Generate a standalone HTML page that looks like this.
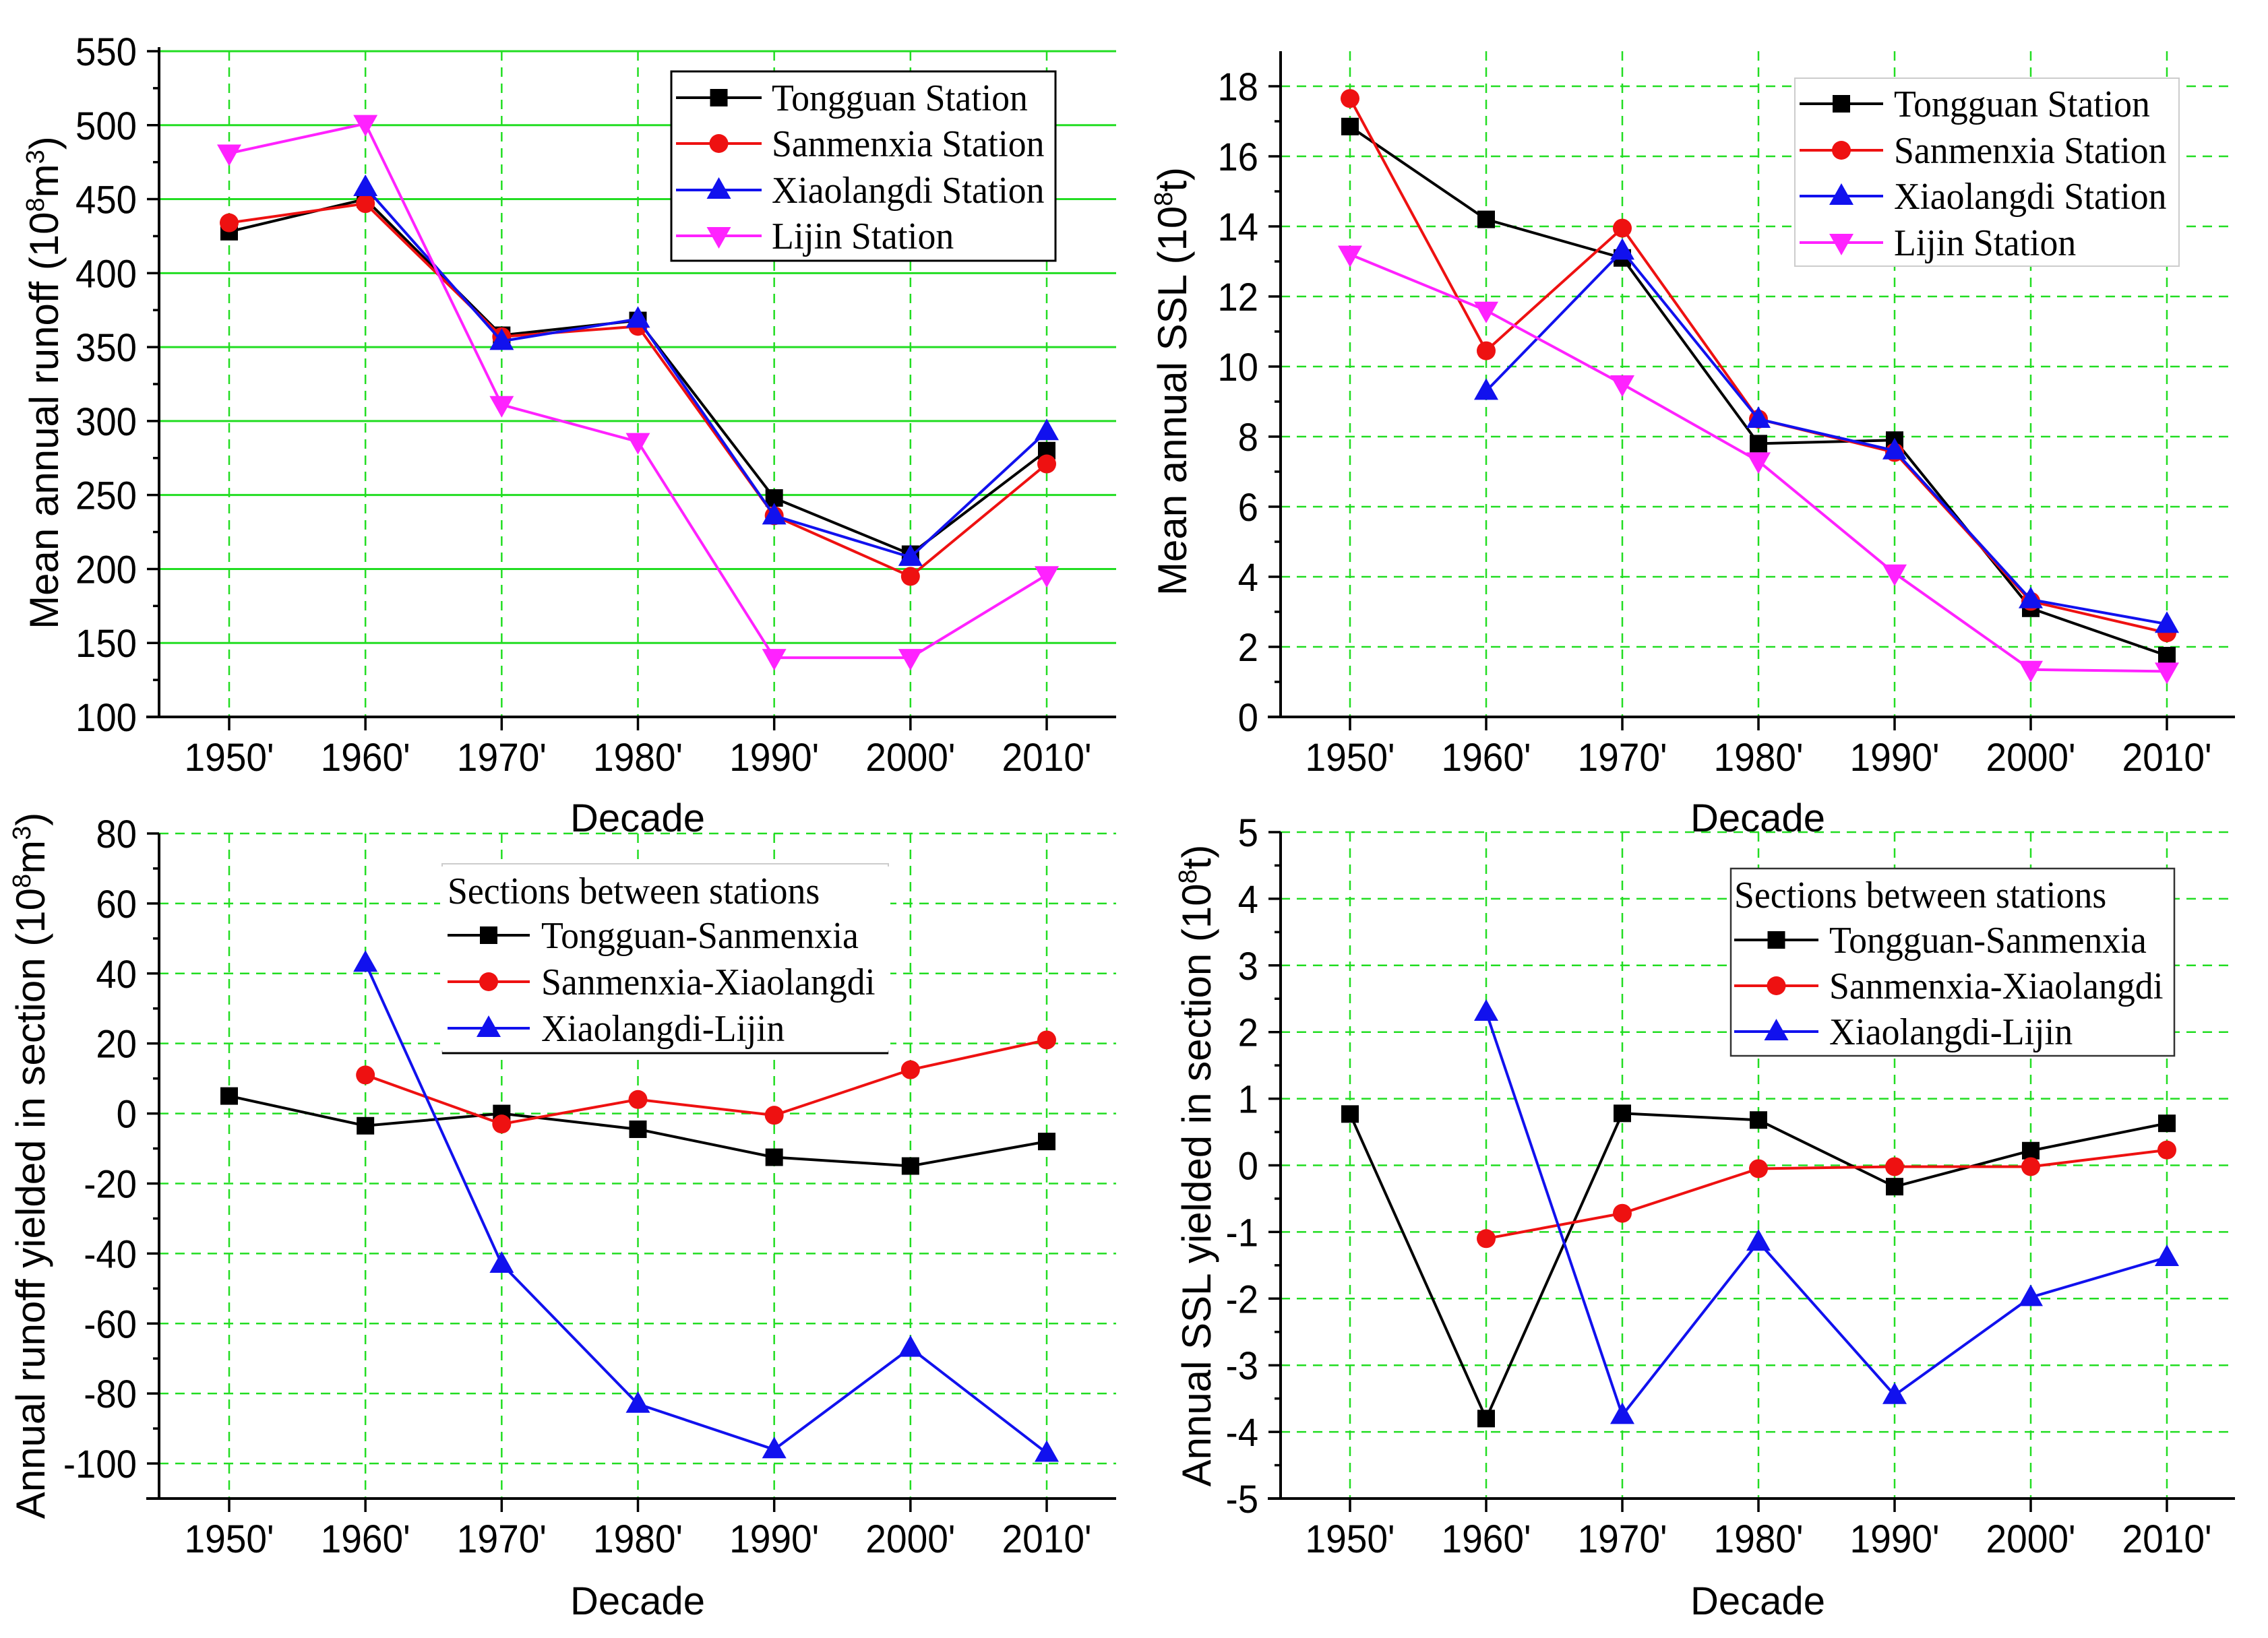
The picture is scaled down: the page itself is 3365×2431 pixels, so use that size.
<!DOCTYPE html>
<html><head><meta charset="utf-8"><style>
html,body{margin:0;padding:0;background:#fff;}
svg{display:block;}
text{font-family:"Liberation Sans",Arial,sans-serif;fill:#000;}
.leg{font-family:"Liberation Serif","Times New Roman",serif;font-size:56px;}
</style></head><body>
<svg id="fig" width="3365" height="2431" viewBox="0 0 3365 2431" xmlns="http://www.w3.org/2000/svg"></svg>
<script>
const decades = ["1950'","1960'","1970'","1980'","1990'","2000'","2010'"];
// Panel A: mean annual runoff
const runoffTongguan   = [428, 450, 358, 368, 248, 210, 280];
const runoffSanmenxia  = [434, 447, 357, 364, 236, 195, 271];
const runoffXiaolangdi = [null, 458, 354, 369, 236, 208, 293];
const runoffLijin      = [481, 501, 311, 286, 140, 140, 196];
const runoffTicks = [100,150,200,250,300,350,400,450,500,550];
// Panel B: mean annual SSL
const sslTongguan   = [16.85, 14.2, 13.1, 7.8, 7.9, 3.1, 1.75];
const sslSanmenxia  = [17.65, 10.45, 13.95, 8.5, 7.55, 3.3, 2.4];
const sslXiaolangdi = [null, 9.3, 13.3, 8.5, 7.6, 3.35, 2.65];
const sslLijin      = [13.2, 11.6, 9.5, 7.3, 4.1, 1.35, 1.3];
const sslTicks = [0,2,4,6,8,10,12,14,16,18];
// Panel C: runoff yielded in section
const secRunoffTS = [5, -3.5, 0, -4.5, -12.5, -15, -8];
const secRunoffSX = [null, 11, -3, 4, -0.5, 12.5, 21];
const secRunoffXL = [null, 43, -43, -83, -96, -67, -97];
const secRunoffTicks = [-100,-80,-60,-40,-20,0,20,40,60,80];
// Panel D: SSL yielded in section
const secSslTS = [0.77, -3.8, 0.78, 0.68, -0.32, 0.22, 0.63];
const secSslSX = [null, -1.1, -0.72, -0.05, -0.02, -0.02, 0.23];
const secSslXL = [null, 2.3, -3.75, -1.15, -3.45, -1.98, -1.38];
const secSslTicks = [-5,-4,-3,-2,-1,0,1,2,3,4,5];

const NS = "http://www.w3.org/2000/svg";
const svg = document.getElementById('fig');
function mk(tag, attrs, parent){
  const e = document.createElementNS(NS, tag);
  for (const k in attrs) e.setAttribute(k, attrs[k]);
  (parent||svg).appendChild(e);
  return e;
}
const GREEN = "#22dd22";

function marker(g, type, x, y, color){
  let m;
  if (type==='square') m = mk('rect',{x:x-13,y:y-13,width:26,height:26,fill:color},g);
  else if (type==='circle') m = mk('circle',{cx:x,cy:y,r:14,fill:color},g);
  else if (type==='up') m = mk('polygon',{points:`${x},${y-19} ${x-18},${y+13} ${x+18},${y+13}`,fill:color},g);
  else m = mk('polygon',{points:`${x},${y+19} ${x-18},${y-13} ${x+18},${y-13}`,fill:color},g);
  
  
  return m;
}

function panel(cfg){
  const g = mk('g',{});
  
  
  const {x0, x1, yTop, yBot, vmin, vmax, xFirst, xLast} = cfg;
  const X = i => xFirst + (xLast - xFirst) * i / 6;
  const Y = v => yBot - (v - vmin) / (vmax - vmin) * (yBot - yTop);
  cfg.ticks.forEach(t=>{
    if (t===vmin) return;
    const l = mk('line',{x1:x0,x2:x1,y1:Y(t),y2:Y(t),stroke:GREEN,'stroke-width':cfg.solidH?3:2.5,'stroke-dasharray':cfg.solidH?'none':'14 10'},g);
    
    
  });
  decades.forEach((d,i)=>{
    const l = mk('line',{x1:X(i),x2:X(i),y1:cfg.gridTop,y2:yBot,stroke:GREEN,'stroke-width':2.5,'stroke-dasharray':'14 10'},g);
    
    
  });
  const ya = mk('line',{x1:x0,x2:x0,y1:cfg.axisTop,y2:yBot,stroke:'#000','stroke-width':4},g);
  
  
  const xa = mk('line',{x1:x0-19,x2:x1,y1:yBot,y2:yBot,stroke:'#000','stroke-width':4},g);
  
  
  cfg.ticks.forEach((t,k)=>{
    mk('line',{x1:x0-18,x2:x0,y1:Y(t),y2:Y(t),stroke:'#000','stroke-width':3.5},g);
    const tl = mk('text',{x:0,y:0,'font-size':58,'text-anchor':'end',transform:`translate(${x0-33},${Y(t)+21}) scale(0.94,1)`},g);
    tl.textContent = t;
    
    
    if (k < cfg.ticks.length-1){
      const mv = (t + cfg.ticks[k+1])/2;
      mk('line',{x1:x0-9,x2:x0,y1:Y(mv),y2:Y(mv),stroke:'#000','stroke-width':3.5},g);
    }
  });
  decades.forEach((d,i)=>{
    mk('line',{x1:X(i),x2:X(i),y1:yBot,y2:yBot+20,stroke:'#000','stroke-width':3.5},g);
    const tl = mk('text',{x:0,y:0,'font-size':58,'text-anchor':'middle',transform:`translate(${X(i)},${yBot+80}) scale(0.95,1)`},g);
    tl.textContent = d;
    
    
  });
  const xt = mk('text',{x:(x0+x1)/2,y:cfg.xTitleY,'font-size':58,'text-anchor':'middle'},g);
  xt.textContent = 'Decade';
  
  
  const yt = mk('text',{x:0,y:0,'font-size':60,'text-anchor':'middle',transform:`translate(${cfg.yTitleX},${cfg.yTitleY}) rotate(-90)`},g);
  yt.innerHTML = cfg.yTitle;
  
  
  cfg.series.forEach(s=>{
    const sg = mk('g',{},g);
    
    
    let pts = [];
    s.data.forEach((v,i)=>{ if (v!==null) pts.push([X(i),Y(v)]); });
    const pl = mk('polyline',{points:pts.map(p=>p.join(',')).join(' '),fill:'none',stroke:s.color,'stroke-width':4,'stroke-linejoin':'miter'},sg);
    
    
    pts.forEach(p=>marker(sg, s.marker, p[0], p[1], s.color));
  });
  const L = cfg.legend;
  const lg = mk('g',{},g);
  
  
  mk('rect',{x:L.x,y:L.y,width:L.w,height:L.h,fill:'#fff',stroke:L.border,'stroke-width':L.bw},lg);
  if (L.topBottomOnly){
    mk('rect',{x:L.x-3,y:L.y+4,width:4,height:L.h-8,fill:'#fff'},lg);
    mk('rect',{x:L.x+L.w-1,y:L.y+4,width:4,height:L.h-8,fill:'#fff'},lg);
    mk('line',{x1:L.x,x2:L.x+L.w,y1:L.y+L.h,y2:L.y+L.h,stroke:'#000','stroke-width':3},lg);
  }
  if (L.title){
    const tt = mk('text',{x:0,y:0,class:'leg',transform:`translate(${L.lx0},${L.titleY+19}) scale(0.96,1)`},lg);
    tt.textContent = L.title;
    
    
  }
  cfg.series.forEach((s,k)=>{
    const ry = L.rows[k];
    const eg = mk('g',{},lg);
    
    
    mk('line',{x1:L.lx0,x2:L.lx1,y1:ry,y2:ry,stroke:s.color,'stroke-width':4},eg);
    marker(eg, s.marker, (L.lx0+L.lx1)/2, ry, s.color);
    const t = mk('text',{x:0,y:0,class:'leg',transform:`translate(${L.tx},${ry+19}) scale(0.96,1)`},eg);
    t.textContent = s.label;
  });
}

panel({name:'runoff-panel', x0:236, x1:1656, yTop:76, yBot:1064, vmin:100, vmax:550, xFirst:340, xLast:1553,
  axisTop:70, gridTop:76, solidH:true, ticks:runoffTicks, xTitleY:1234, yTitleX:86, yTitleY:568,
  yTitle:'Mean annual runoff (10<tspan baseline-shift="super" font-size="38">8</tspan>m<tspan baseline-shift="super" font-size="38">3</tspan>)',
  series:[
    {name:'tongguan-series',label:'Tongguan Station',data:runoffTongguan,color:'#000',marker:'square'},
    {name:'sanmenxia-series',label:'Sanmenxia Station',data:runoffSanmenxia,color:'#ee1111',marker:'circle'},
    {name:'xiaolangdi-series',label:'Xiaolangdi Station',data:runoffXiaolangdi,color:'#1111ee',marker:'up'},
    {name:'lijin-series',label:'Lijin Station',data:runoffLijin,color:'#ff22ff',marker:'down'}],
  legend:{x:996,y:106,w:570,h:281,border:'#000',bw:3,lx0:1003,lx1:1130,tx:1145,rows:[145,213,282,350]}
});
panel({name:'ssl-panel', x0:1900, x1:3316, yTop:128, yBot:1064, vmin:0, vmax:18, xFirst:2003, xLast:3215,
  axisTop:76, gridTop:76, solidH:false, ticks:sslTicks, xTitleY:1234, yTitleX:1760, yTitleY:566,
  yTitle:'Mean annual SSL (10<tspan baseline-shift="super" font-size="38">8</tspan>t)',
  series:[
    {name:'tongguan-series',label:'Tongguan Station',data:sslTongguan,color:'#000',marker:'square'},
    {name:'sanmenxia-series',label:'Sanmenxia Station',data:sslSanmenxia,color:'#ee1111',marker:'circle'},
    {name:'xiaolangdi-series',label:'Xiaolangdi Station',data:sslXiaolangdi,color:'#1111ee',marker:'up'},
    {name:'lijin-series',label:'Lijin Station',data:sslLijin,color:'#ff22ff',marker:'down'}],
  legend:{x:2663,y:116,w:570,h:279,border:'#cccccc',bw:2,lx0:2670,lx1:2794,tx:2810,rows:[154,223,291,360]}
});
panel({name:'section-runoff-panel', x0:236, x1:1656, yTop:1237, yBot:2224, vmin:-110, vmax:80, xFirst:340, xLast:1553,
  axisTop:1237, gridTop:1237, solidH:false, ticks:secRunoffTicks, xTitleY:2396, yTitleX:66, yTitleY:1730,
  yTitle:'Annual runoff yielded in section (10<tspan baseline-shift="super" font-size="38">8</tspan>m<tspan baseline-shift="super" font-size="38">3</tspan>)',
  series:[
    {name:'tongguan-sanmenxia-series',label:'Tongguan-Sanmenxia',data:secRunoffTS,color:'#000',marker:'square'},
    {name:'sanmenxia-xiaolangdi-series',label:'Sanmenxia-Xiaolangdi',data:secRunoffSX,color:'#ee1111',marker:'circle'},
    {name:'xiaolangdi-lijin-series',label:'Xiaolangdi-Lijin',data:secRunoffXL,color:'#1111ee',marker:'up'}],
  legend:{x:656,y:1282,w:662,h:281,border:'#cccccc',bw:2,topBottomOnly:true,title:'Sections between stations',titleY:1322,lx0:664,lx1:786,tx:803,rows:[1388,1457,1526]}
});
panel({name:'section-ssl-panel', x0:1900, x1:3316, yTop:1235, yBot:2224, vmin:-5, vmax:5, xFirst:2003, xLast:3215,
  axisTop:1235, gridTop:1235, solidH:false, ticks:secSslTicks, xTitleY:2396, yTitleX:1796, yTitleY:1730,
  yTitle:'Annual SSL yielded in section (10<tspan baseline-shift="super" font-size="38">8</tspan>t)',
  series:[
    {name:'tongguan-sanmenxia-series',label:'Tongguan-Sanmenxia',data:secSslTS,color:'#000',marker:'square'},
    {name:'sanmenxia-xiaolangdi-series',label:'Sanmenxia-Xiaolangdi',data:secSslSX,color:'#ee1111',marker:'circle'},
    {name:'xiaolangdi-lijin-series',label:'Xiaolangdi-Lijin',data:secSslXL,color:'#1111ee',marker:'up'}],
  legend:{x:2568,y:1289,w:658,h:278,border:'#333',bw:2.5,title:'Sections between stations',titleY:1328,lx0:2573,lx1:2698,tx:2714,rows:[1395,1463,1531]}
});
</script>
</body></html>
